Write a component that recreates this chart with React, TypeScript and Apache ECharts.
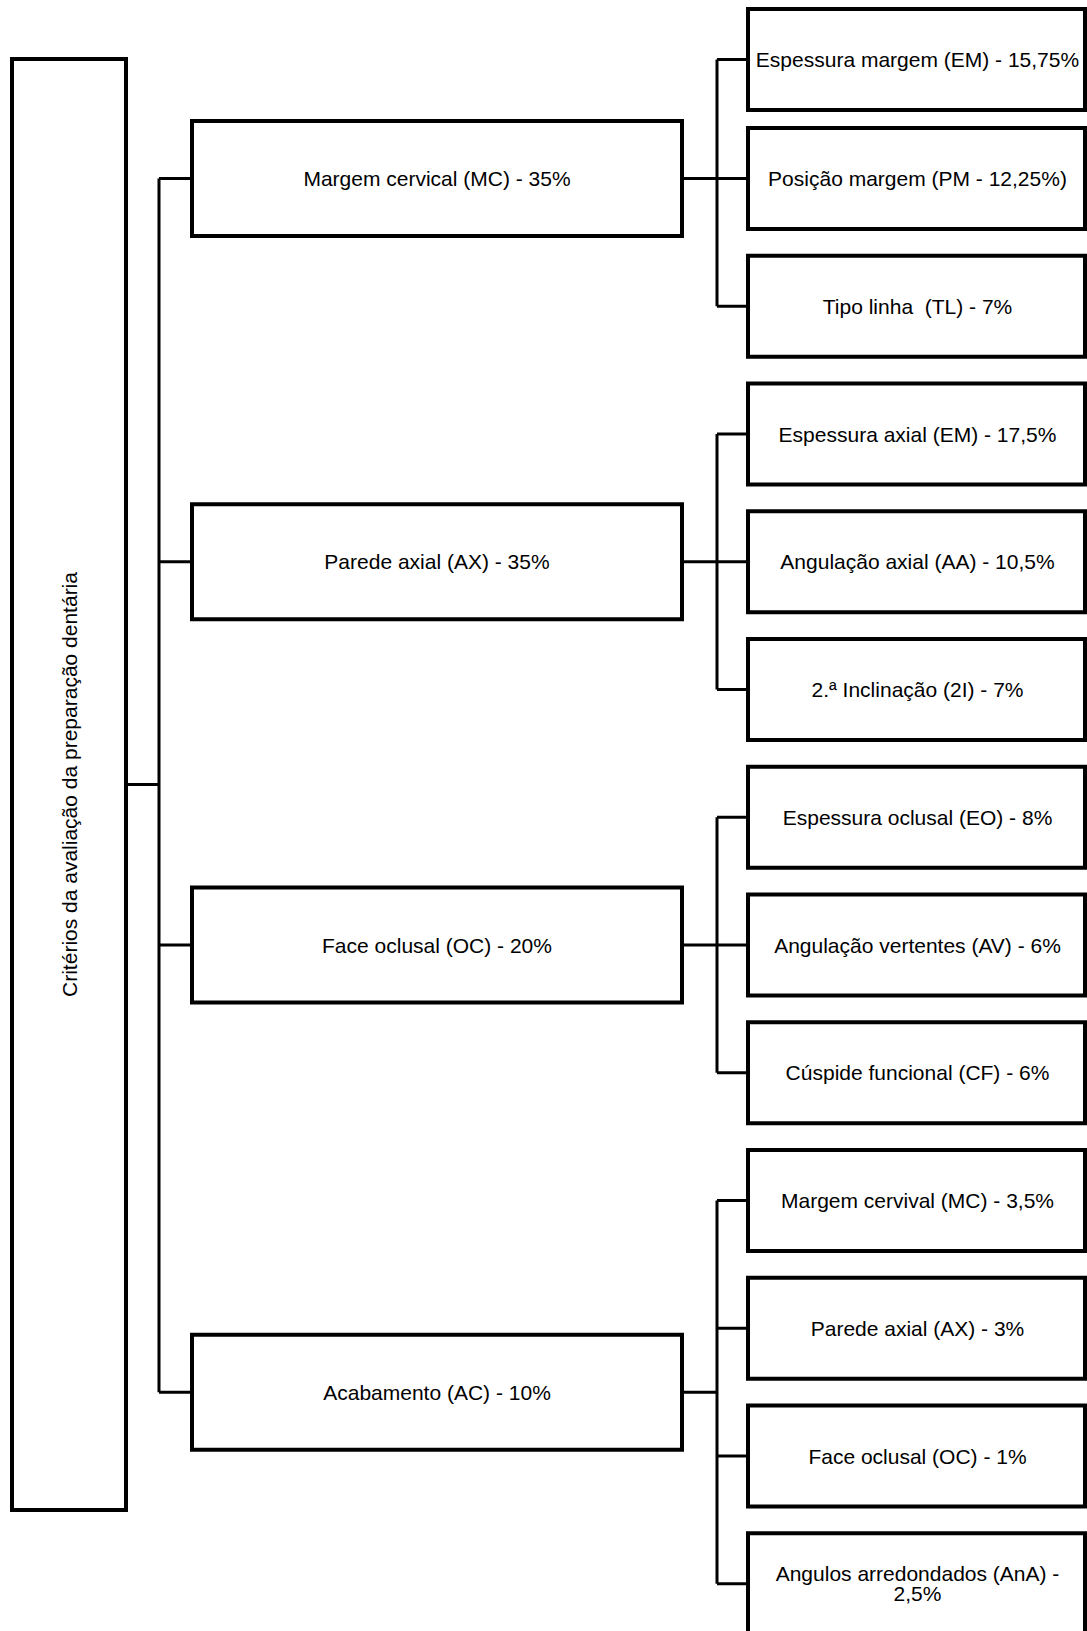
import React, { useEffect, useRef } from "react";
import * as echarts from "echarts";

// ---- data ----
const rootLabel = "Critérios da avaliação da preparação dentária";
const groupLabels = [
  "Margem cervical (MC) - 35%",
  "Parede axial (AX) - 35%",
  "Face oclusal (OC) - 20%",
  "Acabamento (AC) - 10%",
];
const mcItems = [
  "Espessura margem (EM) - 15,75%",
  "Posição margem (PM - 12,25%)",
  "Tipo linha  (TL) - 7%",
];
const axItems = [
  "Espessura axial (EM) - 17,5%",
  "Angulação axial (AA) - 10,5%",
  "2.ª Inclinação (2I) - 7%",
];
const ocItems = [
  "Espessura oclusal (EO) - 8%",
  "Angulação vertentes (AV) - 6%",
  "Cúspide funcional (CF) - 6%",
];
const acItems = [
  "Margem cervival (MC) - 3,5%",
  "Parede axial (AX) - 3%",
  "Face oclusal (OC) - 1%",
  "Angulos arredondados (AnA) - 2,5%",
];
const groupItems = [mcItems, axItems, ocItems, acItems];

// ---- layout ----
const W = 1087;
const H = 1631;
const ROOT = { x0: 12, x1: 126, y0: 59, y1: 1510 };
const TRUNK_X = 159;
const MID = { x0: 192, x1: 682, h: 115 };
const FORK_X = 717;
const LEAF = { x0: 748, x1: 1085, h: 101, firstTop: 9, top1: 128, step: 127.75 };
const BOX_LW = 4;
const LINK_LW = 3;
const FONT = '21px "Liberation Sans", Arial, Helvetica, sans-serif';
const WRAP_W = 332;

function wrapText(s: string, maxW: number): string {
  const ctx = document.createElement("canvas").getContext("2d");
  if (!ctx) return s;
  ctx.font = FONT;
  if (ctx.measureText(s).width <= maxW) return s;
  const words = s.split(" ");
  const out: string[] = [];
  let cur = "";
  words.forEach((w) => {
    const t = cur ? cur + " " + w : w;
    if (cur && ctx.measureText(t).width > maxW) {
      out.push(cur);
      cur = w;
    } else cur = t;
  });
  if (cur) out.push(cur);
  return out.join("\n");
}

function leafTop(i: number) {
  return i === 0 ? LEAF.firstTop : LEAF.top1 + (i - 1) * LEAF.step;
}
function leafCenter(i: number) {
  return leafTop(i) + LEAF.h / 2;
}

function buildGraphics() {
  const lines: any[] = [];
  const boxes: any[] = [];
  const texts: any[] = [];
  const line = (x1: number, y1: number, x2: number, y2: number) =>
    lines.push({
      type: "line",
      shape: { x1, y1, x2, y2 },
      style: { stroke: "#000", lineWidth: LINK_LW },
    });
  const rect = (x: number, y: number, w: number, h: number) =>
    boxes.push({
      type: "rect",
      shape: { x, y, width: w, height: h },
      style: { fill: "#fff", stroke: "#000", lineWidth: BOX_LW },
    });
  const text = (s: string, x: number, y: number, extra: any = {}) =>
    texts.push({
      type: "text",
      x,
      y,
      rotation: extra.rotation || 0,
      style: {
        text: s,
        font: FONT,
        fill: "#000",
        textAlign: "center",
        textVerticalAlign: "middle",
        align: "center",
        verticalAlign: "middle",
        ...(extra.style || {}),
      },
    });

  // root
  const rootCy = (ROOT.y0 + ROOT.y1) / 2;
  rect(ROOT.x0, ROOT.y0, ROOT.x1 - ROOT.x0, ROOT.y1 - ROOT.y0);
  text(rootLabel, (ROOT.x0 + ROOT.x1) / 2, rootCy, { rotation: Math.PI / 2 });
  line(ROOT.x1, rootCy, TRUNK_X, rootCy);

  let leafIdx = 0;
  const midCenters: number[] = [];
  groupItems.forEach((items, g) => {
    const first = leafIdx;
    const last = leafIdx + items.length - 1;
    const n = items.length;
    const midA = first + Math.floor((n - 1) / 2);
    const midB = first + Math.ceil((n - 1) / 2);
    const cy = (leafCenter(midA) + leafCenter(midB)) / 2;
    midCenters.push(cy);
    rect(MID.x0, cy - MID.h / 2, MID.x1 - MID.x0, MID.h);
    text(groupLabels[g], (MID.x0 + MID.x1) / 2, cy);
    line(TRUNK_X, cy, MID.x0, cy);
    line(MID.x1, cy, FORK_X, cy);
    line(FORK_X, leafCenter(first), FORK_X, leafCenter(last));
    items.forEach((label, k) => {
      const i = first + k;
      const top = leafTop(i);
      const c = leafCenter(i);
      rect(LEAF.x0, top, LEAF.x1 - LEAF.x0, LEAF.h);
      line(FORK_X, c, LEAF.x0, c);
      text(wrapText(label, WRAP_W), (LEAF.x0 + LEAF.x1) / 2 + 1, c, {
        style: { lineHeight: 20 },
      });
    });
    leafIdx += items.length;
  });
  line(TRUNK_X, midCenters[0], TRUNK_X, midCenters[midCenters.length - 1]);

  return [...lines, ...boxes, ...texts];
}

export default function App() {
  const ref = useRef<HTMLDivElement>(null);
  useEffect(() => {
    if (!ref.current) return;
    const chart = echarts.init(ref.current, null, { renderer: "svg" });
    chart.setOption({
      animation: false,
      backgroundColor: "#fff",
      graphic: { elements: buildGraphics() },
    });
    return () => chart.dispose();
  }, []);
  return (
    <div
      ref={ref}
      style={{ position: "fixed", left: 0, top: 0, width: W, height: H, background: "#fff" }}
    />
  );
}
